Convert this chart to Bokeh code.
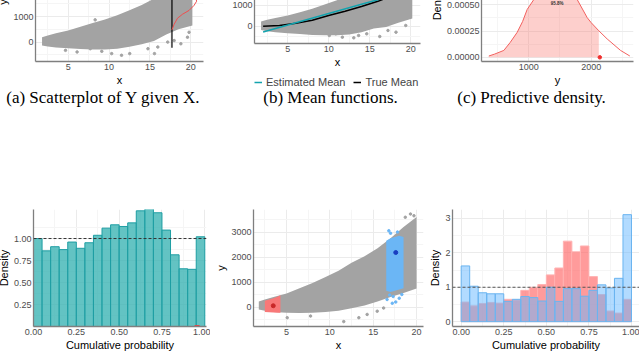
from bokeh.plotting import figure
from bokeh.layouts import column, row
from bokeh.models import Range1d, FixedTicker, PrintfTickFormatter, Legend, LegendItem, Span
from bokeh.core.properties import value
from bokeh.embed import file_html
from bokeh.resources import INLINE

# ---------------- data ----------------
# (a) scatter of Y given X: cloud envelope, outliers, conditional density at x = 17.7
a_cloud_x = [1.8, 2.5, 3.5, 5.0, 6.5, 8.0, 9.5, 11.0, 12.5, 14.0, 15.5, 17.0, 18.5, 20.2]
a_cloud_lo = [-130, -170, -210, -240, -270, -285, -285, -260, -180, -80, 40, 300, 500, 650]
a_cloud_hi = [190, 260, 350, 450, 600, 750, 880, 1050, 1250, 1450, 1700, 2050, 2400, 2800]
a_out_x = [4.67, 6.09, 7.70, 9.11, 10.32, 11.53, 12.53, 14.76, 15.56, 15.97, 17.18, 17.97, 18.79, 19.60, 19.79, 8.3]
a_out_y = [-322, -385, -258, -360, -450, -515, -450, -258, -450, -192, 0, 62, -65, 192, 385, 870]
a_cut_x = [17.7]
a_cut_lo = [-220]
a_cut_hi = [3800]
a_dens_x = [17.7, 17.97, 18.38, 18.99, 19.79, 20.4, 20.72, 20.6, 20.2, 19.5, 18.6, 17.9]
a_dens_y = [480, 700, 935, 1090, 1240, 1435, 1600, 1750, 1950, 2150, 2400, 2700]

# (b) mean functions
b_cloud_x = [1.75, 2.5, 3.5, 5.0, 6.5, 8.0, 9.5, 11.0, 12.5, 14.0, 15.5, 17.0, 18.5, 20.2]
b_cloud_lo = [-170, -230, -270, -320, -360, -400, -420, -420, -380, -280, -100, -20, 180, 380]
b_cloud_hi = [240, 320, 400, 520, 680, 850, 1050, 1250, 1480, 1700, 1950, 2250, 2550, 2900]
b_out_x = [10.08, 10.87, 11.67, 13.06, 13.65, 14.64, 16.23, 17.23, 18.21, 19.4]
b_out_y = [-428, -349, -508, -540, -428, -349, -476, -190, -270, 48]
b_est_x = [2, 6, 10, 14, 18, 20]
b_est_y = [-265, 175, 615, 1055, 1495, 1715]
b_true_x = [2, 4, 6, 8, 10, 12, 14, 16, 18, 20]
b_true_y = [10, 50, 150, 300, 520, 730, 950, 1200, 1500, 1850]
b_legend_labels = ["Estimated Mean", "True Mean"]

# (c) predictive density
c_y = [359, 450, 600, 700, 814, 900, 974, 1080, 1200, 1300, 1430, 1550, 1650, 1776, 1936, 2000, 2122, 2256, 2470, 2619]
c_dens = [0.0000125, 0.00003, 0.0000656, 0.00014, 0.000238, 0.00034, 0.000456, 0.00055, 0.00065, 0.0007,
          0.00072, 0.0007, 0.00065, 0.00055, 0.000378, 0.00033, 0.000253, 0.000175, 0.0000656, 0.0000125]
c_cut = 2122
c_obs = [2138]
c_pct_label = ["95.8%"]
c_pct_x = [1455]
c_pct_y = [0.000513]

# (d) PIT histogram
d_left = [0.00, 0.05, 0.10, 0.15, 0.20, 0.25, 0.30, 0.35, 0.40, 0.45,
          0.50, 0.55, 0.60, 0.65, 0.70, 0.75, 0.80, 0.85, 0.90, 0.95]
d_right = [0.05, 0.10, 0.15, 0.20, 0.25, 0.30, 0.35, 0.40, 0.45, 0.50,
           0.55, 0.60, 0.65, 0.70, 0.75, 0.80, 0.85, 0.90, 0.95, 1.00]
d_density = [1.00, 0.86, 0.907, 0.874, 0.96, 0.889, 0.952, 1.037, 1.118, 1.156,
             1.137, 1.178, 1.315, 1.337, 1.293, 1.096, 0.815, 0.656, 0.65, 1.02]

# (e) local regions
e_cloud_x = [1.8, 2.5, 3.5, 5.0, 6.5, 8.0, 9.5, 11.0, 12.5, 14.0, 15.5, 17.0, 18.5, 20.0]
e_cloud_lo = [-100, -150, -200, -230, -240, -230, -200, -150, -50, 60, 220, 400, 560, 740]
e_cloud_hi = [220, 300, 400, 540, 750, 960, 1200, 1450, 1770, 2030, 2350, 2750, 3200, 3600]
e_out_x = [5.08, 7.77, 11.6, 13.34, 14.3, 15.46, 16.2, 19.3, 19.7, 18.7]
e_out_y = [-428, -362, -583, -428, -298, -168, -40, 3720, 3650, 3590]
e_red_x = [2.5, 3.0, 3.5, 4.0, 4.3]
e_red_lo = [-200, -210, -220, -225, -230]
e_red_hi = [250, 300, 350, 420, 470]
e_blue_x = [16.5, 17.0, 17.5, 18.0, 18.5]
e_blue_lo = [650, 600, 650, 700, 750]
e_blue_hi = [2650, 2750, 2800, 2850, 2800]
e_blue_out_x = [16.8, 17.0, 16.6, 17.2, 17.6, 18.0, 17.3, 16.9, 18.3, 17.8]
e_blue_out_y = [3050, 2950, 300, 150, 200, 350, 420, 480, 500, 3000]
e_red_pt = ([3.47], [50])
e_blue_pt = ([17.6], [2180])

# (f) two PIT histograms
f_red = [0.57, 0.46, 0.53, 0.56, 0.54, 0.65, 0.63, 0.91, 1.00, 1.08,
         1.36, 1.56, 2.34, 2.03, 2.20, 1.31, 0.79, 0.31, 0.25, 0.65]
f_blue = [1.62, 1.03, 0.84, 0.81, 0.81, 0.59, 0.65, 0.73, 0.70, 0.60,
          1.00, 0.59, 0.96, 0.96, 0.74, 0.91, 1.07, 0.98, 1.26, 3.11]

captions = ["(a) Scatterplot of Y given X.", "(b) Mean functions.", "(c) Predictive density."]
caption_x = [103, 330, 531]
caption_y = [97, 97, 97]

GRAY = "#A3A3A3"
TEAL = "#13A3AE"
FONT = "Liberation Sans"


def no_align(p):
    if "frame_align" in p.properties():
        p.frame_align = False


def make_fig(w, h, xr, yr, mbl, mbr, mbt, mbb, xt, xmt, yt, ymt, xlabel, ylabel):
    p = figure(width=w, height=h, x_range=Range1d(*xr), y_range=Range1d(*yr),
               output_backend="svg", toolbar_location=None,
               min_border_left=mbl, min_border_right=mbr, min_border_top=mbt, min_border_bottom=mbb)
    no_align(p)
    p.outline_line_color = None
    p.xaxis.ticker = FixedTicker(ticks=xt, minor_ticks=xmt)
    p.yaxis.ticker = FixedTicker(ticks=yt, minor_ticks=ymt)
    p.grid.grid_line_color = "#EBEBEB"
    p.grid.minor_grid_line_color = "#F5F5F5"
    p.xaxis.axis_label = xlabel
    p.yaxis.axis_label = ylabel
    p.axis.axis_line_color = "#7F7F7F"
    p.axis.axis_line_width = 1.3
    p.axis.major_tick_line_color = None
    p.axis.minor_tick_line_color = None
    p.axis.major_tick_out = 0
    p.axis.major_tick_in = 0
    p.axis.minor_tick_out = 0
    p.axis.minor_tick_in = 0
    p.axis.major_label_text_font = FONT
    p.axis.major_label_text_font_size = "9px"
    p.axis.major_label_text_color = "#4D4D4D"
    p.axis.axis_label_text_font = FONT
    p.axis.axis_label_text_font_size = "11px"
    p.axis.axis_label_text_font_style = "normal"
    p.axis.axis_label_text_color = "black"
    p.axis.major_label_standoff = 2
    p.axis.axis_label_standoff = 1
    return p


TOP_H = 148   # the top row is cropped: 60 px of it lie above the page
BOT_H = 148

# ---- (a)
pa = make_fig(219, TOP_H, (1.0, 21.56), (-758, 3896), 39, 10, 2, 25,
              [5, 10, 15, 20], [2.5, 7.5, 12.5, 17.5], [0, 1000, 2000, 3000], [-500, 500, 1500, 2500, 3500], "x", "y")
pa.varea(x=a_cloud_x, y1=a_cloud_lo, y2=a_cloud_hi, fill_color=GRAY)
pa.scatter(a_out_x, a_out_y, size=2.5, color=GRAY)
pa.segment(x0=a_cut_x, y0=a_cut_lo, x1=a_cut_x, y1=a_cut_hi, line_color="black", line_width=1.2)
pa.line(a_dens_x, a_dens_y, line_color="#F04E4E", line_width=1)

# ---- (b)  plot + legend strip underneath
pb = make_fig(213, TOP_H - 15, (0.95, 21.2), (-810, 4000), 37, 6, 2, 30,
              [5, 10, 15, 20], [2.5, 7.5, 12.5, 17.5], [0, 1000, 2000, 3000], [-500, 500, 1500, 2500, 3500], "x", "y")
pb.varea(x=b_cloud_x, y1=b_cloud_lo, y2=b_cloud_hi, fill_color=GRAY)
pb.scatter(b_out_x, b_out_y, size=2.5, color=GRAY)
pb.line(b_true_x, b_true_y, line_color="black", line_width=1.5)
pb.line(b_est_x, b_est_y, line_color=TEAL, line_width=1.5)

pleg = figure(width=213, height=15, x_range=Range1d(100, 101), y_range=Range1d(100000, 100001),
              output_backend="svg", toolbar_location=None, min_border=0)
no_align(pleg)
pleg.axis.visible = False
pleg.grid.visible = False
pleg.outline_line_color = None
l_est = pleg.line(b_est_x, b_est_y, line_color=TEAL, line_width=1.5)
l_true = pleg.line(b_true_x, b_true_y, line_color="black", line_width=1.5)
leg = Legend(items=[LegendItem(label=b_legend_labels[0], renderers=[l_est]),
                    LegendItem(label=b_legend_labels[1], renderers=[l_true])],
             orientation="horizontal", location=(41, 0))
leg.label_text_font = FONT
leg.label_text_font_size = "11px"
leg.glyph_width = 8
leg.glyph_height = 12
leg.label_standoff = 4
leg.spacing = 8
leg.padding = 0
leg.margin = 0
leg.label_height = 12
leg.border_line_color = None
leg.background_fill_alpha = 0
pleg.add_layout(leg)

# ---- (c)
pc = make_fig(213, TOP_H, (242, 2678), (-0.00004, 0.001094), 55, 6, 2, 25,
              [1000, 2000], [500, 1500, 2500], [0, 0.00025, 0.0005, 0.00075, 0.001],
              [0.000125, 0.000375, 0.000625, 0.000875], "y", "Density")
pc.yaxis.formatter = PrintfTickFormatter(format="%.5f")
shade_x = [v for v in c_y if v <= c_cut]
shade_d = [d for v, d in zip(c_y, c_dens) if v <= c_cut]
pc.varea(x=shade_x, y1=[0] * len(shade_x), y2=shade_d, fill_color="#F8766D", fill_alpha=0.35)
pc.line(c_y, c_dens, line_color="#F2605E", line_width=1)
pc.scatter(c_obs, [0], size=3.5, color="#F0302E")
pc.text(c_pct_x, c_pct_y, text=c_pct_label, text_font=value(FONT), text_font_size="4.5px",
        text_font_style="bold", text_align="center", text_baseline="middle", text_color="#333333")

# ---- captions
pcap = figure(width=645, height=117, x_range=Range1d(-6, 639), y_range=Range1d(205, 88),
              output_backend="svg", toolbar_location=None, min_border=0)
no_align(pcap)
pcap.axis.visible = False
pcap.grid.visible = False
pcap.outline_line_color = None
pcap.text(caption_x, caption_y, text=captions, text_font=value("Liberation Serif"), text_font_size="17px",
          text_align="center", text_baseline="middle", text_color="black")

# ---- (d)
pd_ = make_fig(216, BOT_H, (0, 1.01), (0, 1.33), 39, 4, 4, 24,
               [0, 0.25, 0.5, 0.75, 1.0], [0.125, 0.375, 0.625, 0.875], [0.25, 0.5, 0.75, 1.0],
               [0.125, 0.375, 0.625, 0.875, 1.125], "Cumulative probability", "Density")
pd_.xaxis.formatter = PrintfTickFormatter(format="%.2f")
pd_.yaxis.formatter = PrintfTickFormatter(format="%.2f")
pd_.quad(left=d_left, right=d_right, bottom=0, top=d_density, fill_color="#3CB4B4", fill_alpha=0.8,
         line_color="#1E9EA3", line_width=1)
pd_.add_layout(Span(location=1.0, dimension="width", line_color="#333333", line_dash="3 2", line_width=1))
pd_.scatter([0.955], [0.006], marker="dash", size=5, color="#F04040", line_width=2)

# ---- (e)
pe = make_fig(216, BOT_H, (1.19, 20.8), (-780, 3900), 43, 3, 4, 24,
              [5, 10, 15, 20], [2.5, 7.5, 12.5, 17.5], [0, 1000, 2000, 3000], [-500, 500, 1500, 2500, 3500], "x", "y")
pe.varea(x=e_cloud_x, y1=e_cloud_lo, y2=e_cloud_hi, fill_color=GRAY)
pe.scatter(e_out_x, e_out_y, size=2.5, color=GRAY)
pe.varea(x=e_red_x, y1=e_red_lo, y2=e_red_hi, fill_color="#F87878")
pe.varea(x=e_blue_x, y1=e_blue_lo, y2=e_blue_hi, fill_color="#6BB6F5")
pe.scatter(e_blue_out_x, e_blue_out_y, size=2.5, color="#6BB6F5")
pe.scatter(*e_red_pt, size=4, color="#C82828")
pe.scatter(*e_blue_pt, size=4, color="#1A3FC0")

# ---- (f)
pf = make_fig(213, BOT_H, (-0.051, 1.047), (-0.14, 3.26), 26, 0, 4, 24,
              [0, 0.25, 0.5, 0.75, 1.0], [0.125, 0.375, 0.625, 0.875], [0, 1, 2, 3], [0.5, 1.5, 2.5],
              "Cumulative probability", "Density")
pf.xaxis.formatter = PrintfTickFormatter(format="%.2f")
pf.quad(left=d_left, right=d_right, bottom=0, top=f_red, fill_color="#FF6666", fill_alpha=0.65,
        line_color="#FFB3B3", line_width=1)
pf.quad(left=d_left, right=d_right, bottom=0, top=f_blue, fill_color="#66B8FF", fill_alpha=0.5,
        line_color="#6AB4F0", line_width=1)
pf.add_layout(Span(location=1.0, dimension="width", line_color="#555555", line_dash="3 2", line_width=1.2))

top_row = row(pa, column(pb, pleg), pc, margin=(-60, 0, 0, 0))
layout = column(top_row, pcap, row(pd_, pe, pf), margin=(0, 0, 0, -6))

open("out.html", "w").write(file_html(layout, INLINE))
